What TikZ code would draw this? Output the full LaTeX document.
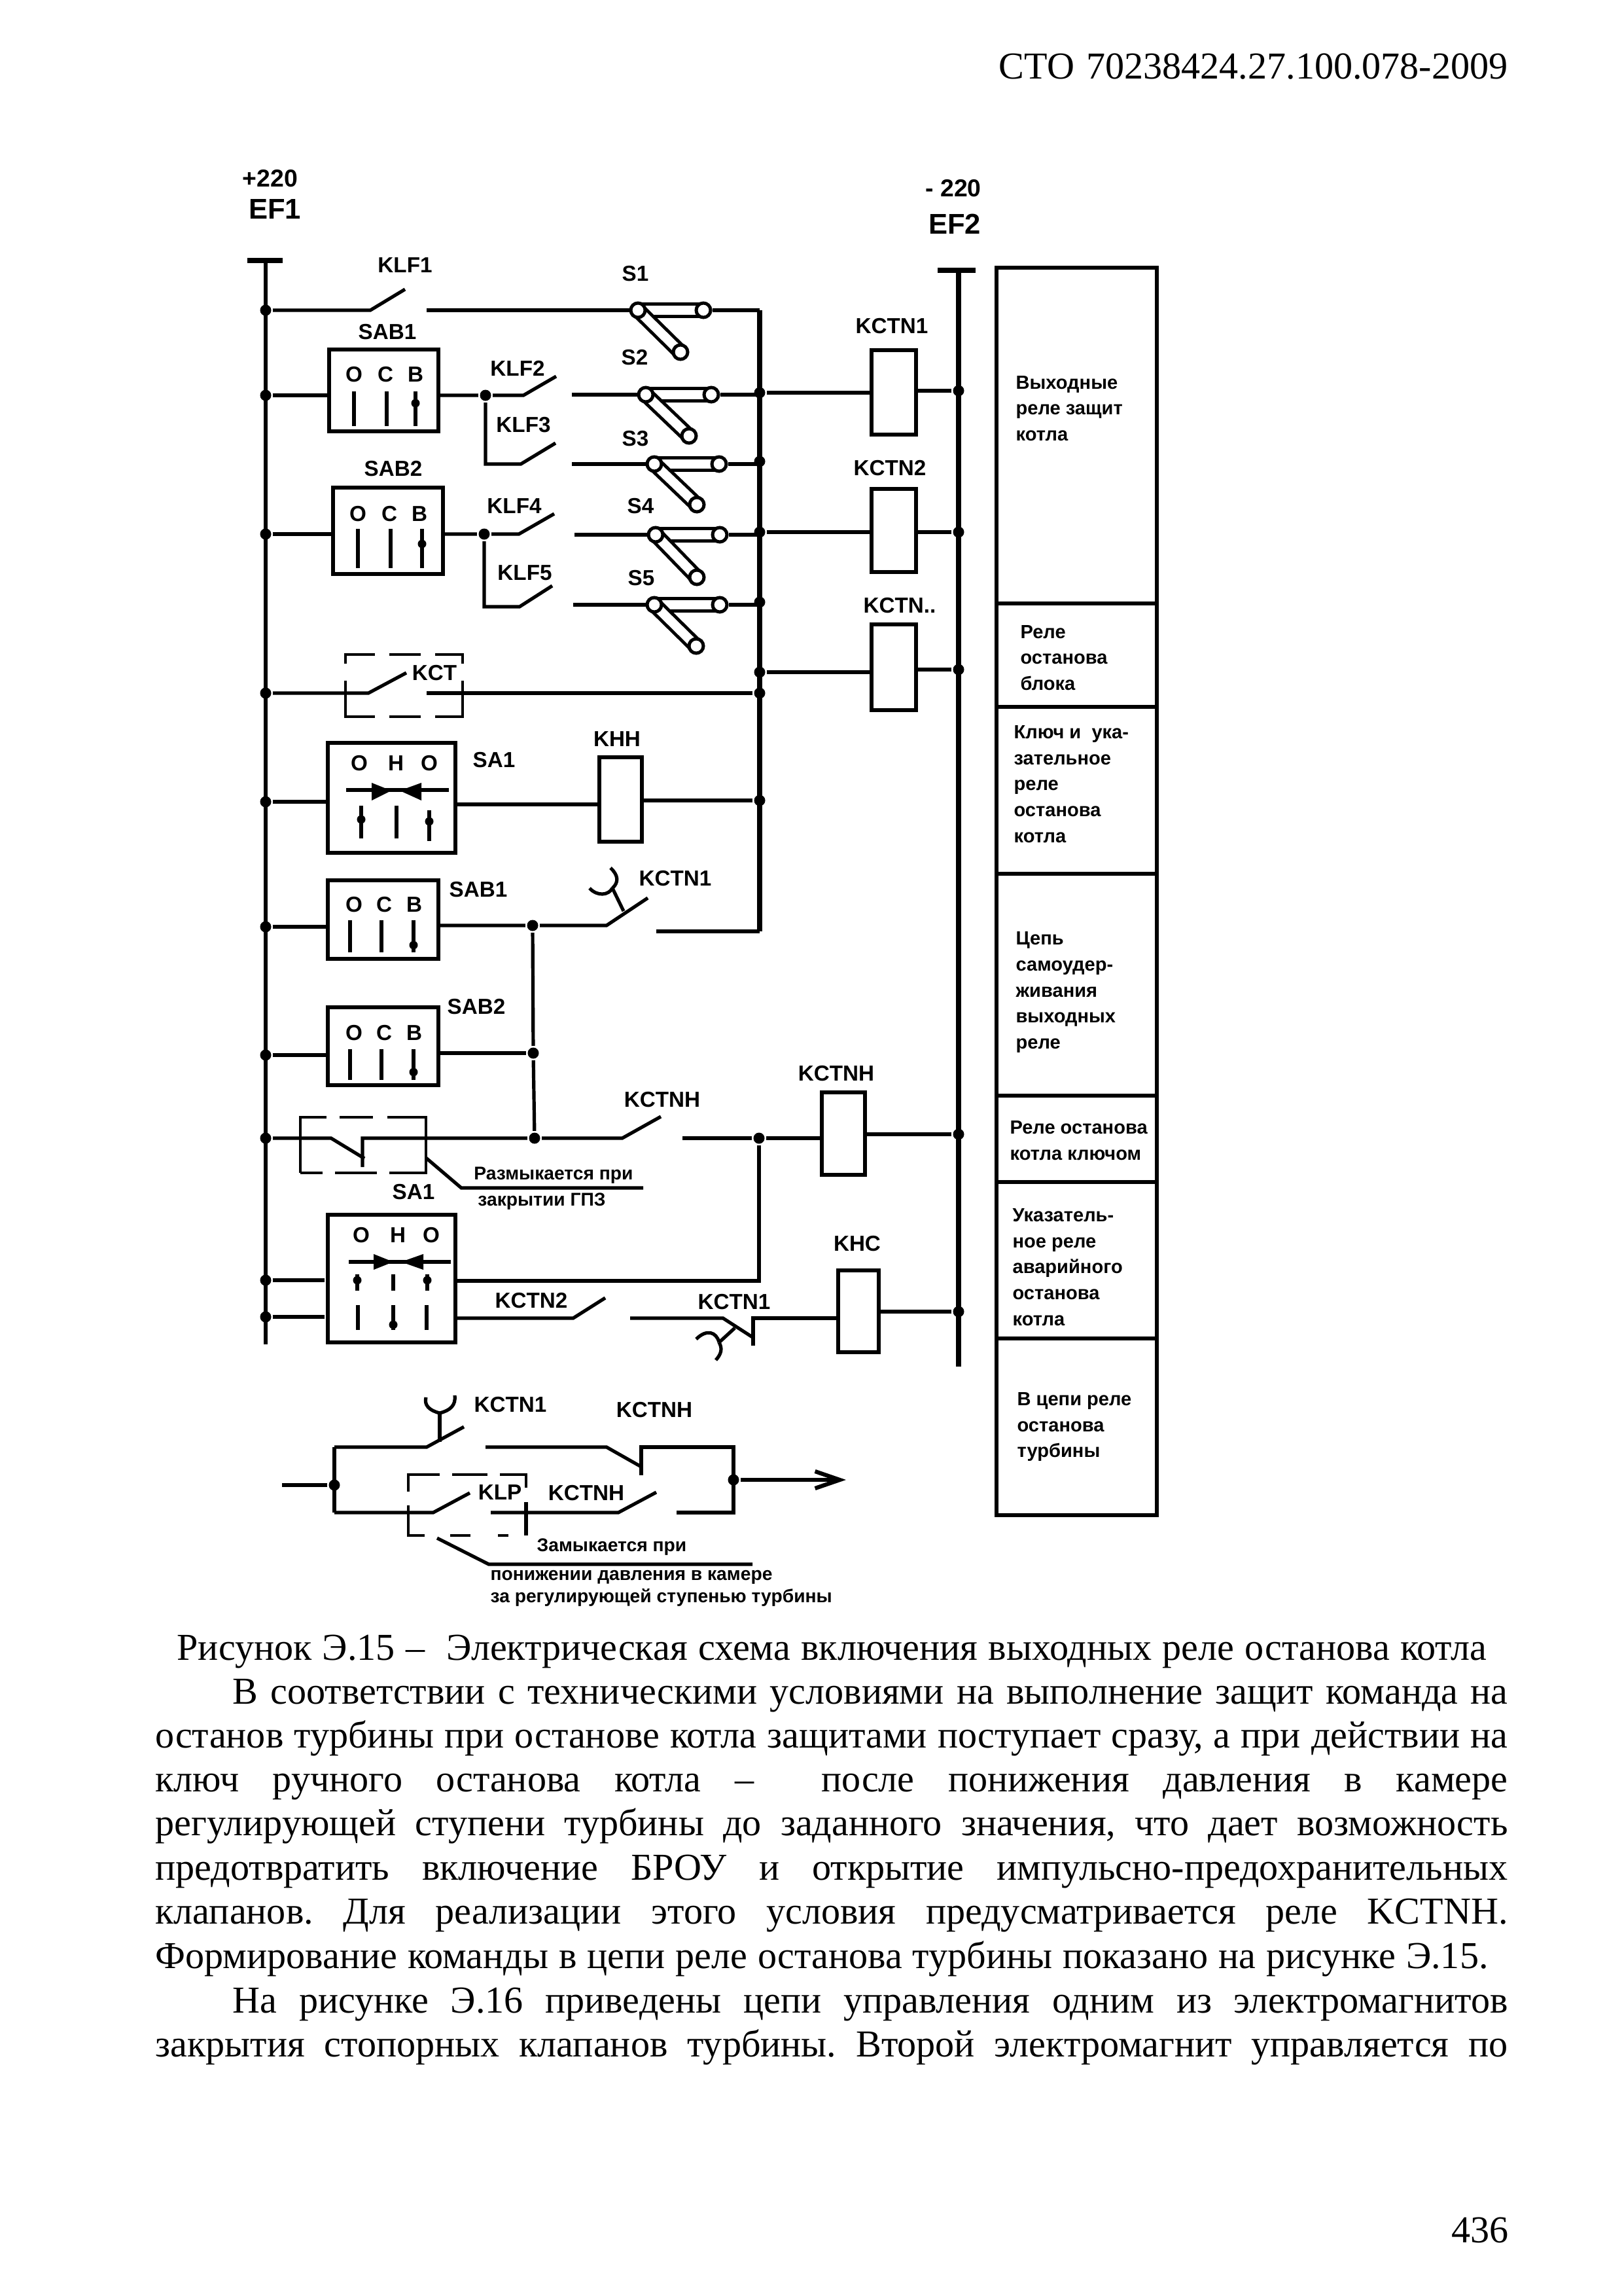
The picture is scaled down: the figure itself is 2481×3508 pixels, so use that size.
\documentclass[tikz,border=0pt]{standalone}
\usepackage{fontspec}
\setmainfont{Liberation Serif}
\newfontfamily\schemefont{Liberation Sans}
\usetikzlibrary{arrows.meta,backgrounds}
\newdimen\pxu
\pxu=0.08464mm
\newcommand{\jline}[2]{\makebox[#1\pxu][s]{#2}}
\frenchspacing
\tikzset{
    lbl/.style={font=\schemefont\bfseries\fontsize{8}{9}\selectfont,inner sep=0pt},
    keylet/.style={font=\schemefont\bfseries\fontsize{8}{9}\selectfont,inner sep=0pt},
    note/.style={font=\schemefont\bfseries\fontsize{6.8}{8}\selectfont,inner sep=0pt},
    cell/.style={font=\schemefont\bfseries\fontsize{7}{9.6}\selectfont,inner sep=0pt,align=left,anchor=west},
    body/.style={font=\fontsize{14}{16}\selectfont,inner sep=0pt,anchor=base west},
    keybox/.style={draw,line width=1.4pt,inner sep=0pt,fill=white},
    coil/.style={draw,line width=1.6pt,inner sep=0pt,fill=white},
    dashline/.style={line width=.9pt},
    junct/.style={circle,fill,inner sep=0pt,minimum size=17\pxu},
    kdot/.style={circle,fill,inner sep=0pt,minimum size=13\pxu},
    pin/.style={circle,draw,fill=white,line width=1.2pt,inner sep=0pt,minimum size=22\pxu},
    plug/.style={double=white,double distance=14\pxu,line width=1.2pt,shorten <=-9\pxu,shorten >=-9\pxu},
    busbar/.style={line width=1.8pt}
}

\begin{document}
\begin{tikzpicture}[x=\pxu,y=-\pxu,line width=1.25pt]
    \useasboundingbox (0,0) rectangle (2481,3508);

    % page text
    \node (head) [body] at (1524,120) {\jline{778}{СТО 70238424.27.100.078-2009}};
    \node (capt) [body] at (268,2536) {\jline{2002}{Рисунок Э.15 –\ \ Электрическая схема включения выходных реле останова котла}};
    \node (txta) [body] at (353,2603) {\jline{1949}{В соответствии с техническими условиями на выполнение защит команда на}};
    \node (txtb) [body] at (235,2670) {\jline{2067}{останов турбины при останове котла защитами поступает сразу, а при действии на}};
    \node (txtc) [body] at (235,2737) {\jline{2067}{ключ ручного останова котла –\ \ после понижения давления в камере}};
    \node (txtd) [body] at (235,2804) {\jline{2067}{регулирующей ступени турбины до заданного значения, что дает возможность}};
    \node (txte) [body] at (235,2872) {\jline{2067}{предотвратить включение БРОУ и открытие импульсно-предохранительных}};
    \node (txtf) [body] at (235,2939) {\jline{2067}{клапанов. Для реализации этого условия предусматривается реле KCTNH.}};
    \node (txtg) [body] at (235,3007) {\jline{2037}{Формирование команды в цепи реле останова турбины показано на рисунке Э.15.}};
    \node (txth) [body] at (353,3075) {\jline{1949}{На рисунке Э.16 приведены цепи управления одним из электромагнитов}};
    \node (txti) [body] at (235,3142) {\jline{2067}{закрытия стопорных клапанов турбины. Второй электромагнит управляется по}};
    \node (pnum) [body] at (2216,3426) {436};

    % buses
    \node (plus) [lbl,font=\schemefont\bfseries\fontsize{9}{10}\selectfont] at (413,273) {+220};
    \node (efone) [lbl,font=\schemefont\bfseries\fontsize{10.5}{12}\selectfont] at (420,319) {EF1};
    \node (minus) [lbl,font=\schemefont\bfseries\fontsize{9}{10}\selectfont] at (1457,288) {- 220};
    \node (eftwo) [lbl,font=\schemefont\bfseries\fontsize{10.5}{12}\selectfont] at (1459,342) {EF2};
    \coordinate (busAl) at (378,398);
    \coordinate (busAr) at (432,398);
    \coordinate (busAt) at (406,398);
    \coordinate (busAb) at (406,2054);
    \coordinate (busBl) at (1433,413);
    \coordinate (busBr) at (1491,413);
    \coordinate (busBt) at (1465,413);
    \coordinate (busBb) at (1465,2088);
    \draw [line width=2pt] (busAl) -- (busAr);
    \draw [line width=2pt] (busBl) -- (busBr);
    \draw (busAt) -- (busAb);
    \draw [busbar] (busBt) -- (busBb);

    \node (jA) [junct] at (406,474) {};
    \node (jB) [junct] at (406,604) {};
    \node (jC) [junct] at (406,816) {};
    \node (jD) [junct] at (406,1059) {};
    \node (jE) [junct] at (406,1225) {};
    \node (jF) [junct] at (406,1416) {};
    \node (jG) [junct] at (406,1612) {};
    \node (jH) [junct] at (406,1739) {};
    \node (jI) [junct] at (406,1956) {};
    \node (jJ) [junct] at (406,2012) {};

    \coordinate (rA) at (1161,474);
    \node (rB) [junct] at (1161,600) {};
    \node (rC) [junct] at (1161,705) {};
    \node (rD) [junct] at (1161,813) {};
    \node (rE) [junct] at (1161,920) {};
    \node (rF) [junct] at (1161,1027) {};
    \node (rG) [junct] at (1161,1059) {};
    \node (rH) [junct] at (1161,1223) {};
    \coordinate (rI) at (1161,1423);
    \draw [busbar] (rA) -- (rI);

    \node (qA) [junct] at (1465,597) {};
    \node (qB) [junct] at (1465,813) {};
    \node (qC) [junct] at (1465,1023) {};
    \node (qD) [junct] at (1465,1733) {};
    \node (qE) [junct] at (1465,2004) {};

    % key boxes
    \node (sabA) [keybox,minimum width=167\pxu,minimum height=125\pxu] at (586.5,596.5) {};
    \node [lbl] at (592,507) {SAB1};
    \node (sabAo) [keylet] at (541,572) {О};
    \node (sabAc) [keylet] at (589,572) {С};
    \node (sabAb) [keylet] at (635,572) {В};
    \draw (541,598) -- (541,651);
    \draw (591,598) -- (591,651);
    \draw (635,598) -- (635,651);
    \node [kdot] at (635,616) {};

    \node (sabB) [keybox,minimum width=168\pxu,minimum height=132\pxu] at (593,811) {};
    \node [lbl] at (601,716) {SAB2};
    \node (sabBo) [keylet] at (547,785) {О};
    \node (sabBc) [keylet] at (595,785) {С};
    \node (sabBb) [keylet] at (641,785) {В};
    \draw (547,808) -- (547,868);
    \draw (597,808) -- (597,868);
    \draw (645,808) -- (645,868);
    \node [kdot] at (645,831) {};

    \node (sabC) [keybox,minimum width=169\pxu,minimum height=120\pxu] at (585.5,1405) {};
    \node [lbl] at (731,1359) {SAB1};
    \node (sabCo) [keylet] at (541,1382) {О};
    \node (sabCc) [keylet] at (587,1382) {С};
    \node (sabCb) [keylet] at (633,1382) {В};
    \draw (535,1406) -- (535,1455);
    \draw (583,1406) -- (583,1455);
    \draw (632,1406) -- (632,1455);
    \node [kdot] at (632,1444) {};

    \node (sabD) [keybox,minimum width=169\pxu,minimum height=119\pxu] at (585.5,1598.5) {};
    \node [lbl] at (728,1538) {SAB2};
    \node (sabDo) [keylet] at (541,1578) {О};
    \node (sabDc) [keylet] at (587,1578) {С};
    \node (sabDb) [keylet] at (633,1578) {В};
    \draw (535,1603) -- (535,1650);
    \draw (583,1603) -- (583,1650);
    \draw (632,1603) -- (632,1650);
    \node [kdot] at (632,1638) {};

    \node (saA) [keybox,minimum width=195\pxu,minimum height=168\pxu] at (598.5,1219) {};
    \node [lbl] at (755,1161) {SA1};
    \node (saAo) [keylet] at (549,1166) {О};
    \node (saAh) [keylet] at (605,1166) {Н};
    \node (saAp) [keylet] at (656,1166) {О};
    \draw (529,1207) -- (686,1207);
    \fill (568,1196) -- (598,1208) -- (568,1223) -- cycle;
    \fill (644,1196) -- (611,1208) -- (644,1223) -- cycle;
    \draw (552,1231) -- (552,1281);
    \draw (606,1231) -- (606,1281);
    \draw (656,1238) -- (656,1285);
    \node [kdot] at (552,1252) {};
    \node [kdot] at (656,1255) {};

    \node (saB) [keybox,minimum width=195\pxu,minimum height=195\pxu] at (598.5,1953.5) {};
    \node (saBo) [keylet] at (552,1887) {О};
    \node (saBh) [keylet] at (608,1887) {Н};
    \node (saBp) [keylet] at (659,1887) {О};
    \draw (533,1928) -- (689,1928);
    \fill (571,1916) -- (601,1928) -- (571,1940) -- cycle;
    \fill (647,1916) -- (613,1928) -- (647,1940) -- cycle;
    \draw (546,1947) -- (546,1972);
    \draw (601,1947) -- (601,1972);
    \draw (653,1947) -- (653,1972);
    \node [kdot] at (546,1956) {};
    \node [kdot] at (653,1956) {};
    \draw (547,1994) -- (547,2032);
    \draw (601,1994) -- (601,2032);
    \draw (652,1994) -- (652,2032);
    \node [kdot] at (601,2024) {};

    % coils
    \node (coilA) [coil,minimum width=68\pxu,minimum height=129\pxu] at (1366,599.5) {};
    \node (coilB) [coil,minimum width=68\pxu,minimum height=127\pxu] at (1366,810.5) {};
    \node (coilC) [coil,minimum width=68\pxu,minimum height=131\pxu] at (1366,1019.5) {};
    \node (coilH) [coil,minimum width=65\pxu,minimum height=129\pxu] at (948.5,1221.5) {};
    \node (coilN) [coil,minimum width=66\pxu,minimum height=126\pxu] at (1289,1732) {};
    \node (coilS) [coil,minimum width=62\pxu,minimum height=125\pxu] at (1312,2003.5) {};
    \node [lbl] at (1363,498) {KCTN1};
    \node [lbl] at (1360,715) {KCTN2};
    \node [lbl] at (1375,925) {KCTN..};
    \node [lbl] at (943,1129) {KHH};
    \node [lbl] at (1278,1640) {KCTNH};
    \node [lbl] at (1310,1900) {KHC};

    % plug switches
    \node (soneL) [pin] at (975,474) {};
    \node (soneR) [pin] at (1075,474) {};
    \node (soneD) [pin] at (1040,538) {};
    \node (stwoL) [pin] at (987,603) {};
    \node (stwoR) [pin] at (1087,603) {};
    \node (stwoD) [pin] at (1053,666) {};
    \node (sthrL) [pin] at (1000,709) {};
    \node (sthrR) [pin] at (1099,709) {};
    \node (sthrD) [pin] at (1065,771) {};
    \node (sfouL) [pin] at (1002,817) {};
    \node (sfouR) [pin] at (1100,817) {};
    \node (sfouD) [pin] at (1065,882) {};
    \node (sfivL) [pin] at (1000,924) {};
    \node (sfivR) [pin] at (1100,924) {};
    \node (sfivD) [pin] at (1064,987) {};
    \begin{scope}[on background layer]
        \draw [plug] (soneL) -- (soneR);
        \draw [plug] (soneL) -- (soneD);
        \draw [plug] (stwoL) -- (stwoR);
        \draw [plug] (stwoL) -- (stwoD);
        \draw [plug] (sthrL) -- (sthrR);
        \draw [plug] (sthrL) -- (sthrD);
        \draw [plug] (sfouL) -- (sfouR);
        \draw [plug] (sfouL) -- (sfouD);
        \draw [plug] (sfivL) -- (sfivR);
        \draw [plug] (sfivL) -- (sfivD);
    \end{scope}
    \node [lbl] at (971,418) {S1};
    \node [lbl] at (970,546) {S2};
    \node [lbl] at (971,670) {S3};
    \node [lbl] at (979,773) {S4};
    \node [lbl] at (980,883) {S5};

    % row KLF1
    \coordinate (klfAa) at (566,474);
    \coordinate (klfAb) at (619,442);
    \coordinate (klfAc) at (652,474);
    \node [lbl] at (619,405) {KLF1};
    \draw (jA) -- (klfAa) -- (klfAb);
    \draw (klfAc) -- (soneL);
    \draw (soneR) -- (rA);

    % rows KLF2, KLF3
    \node (jsA) [junct] at (742,604) {};
    \coordinate (klfBa) at (800,604);
    \coordinate (klfBb) at (850,575);
    \coordinate (klfBc) at (874,603);
    \coordinate (klfCd) at (742,709);
    \coordinate (klfCa) at (796,709);
    \coordinate (klfCb) at (849,677);
    \coordinate (klfCc) at (874,709);
    \node [lbl] at (791,563) {KLF2};
    \node [lbl] at (800,649) {KLF3};
    \draw (jB) -- (jB -| sabA.west);
    \draw (jB -| sabA.east) -- (jsA) -- (klfBa) -- (klfBb);
    \draw (klfBc) -- (stwoL);
    \draw (stwoR) -- (stwoR -| rB) -- (rB);
    \draw (jsA) -- (klfCd) -- (klfCa) -- (klfCb);
    \draw (klfCc) -- (sthrL);
    \draw (sthrR) -- (sthrR -| rC);

    % rows KLF4, KLF5
    \node (jsB) [junct] at (740,816) {};
    \coordinate (klfDa) at (793,816);
    \coordinate (klfDb) at (847,785);
    \coordinate (klfDc) at (878,817);
    \coordinate (klfEd) at (740,927);
    \coordinate (klfEa) at (794,927);
    \coordinate (klfEb) at (844,895);
    \coordinate (klfEc) at (876,924);
    \node [lbl] at (786,773) {KLF4};
    \node [lbl] at (802,875) {KLF5};
    \draw (jC) -- (jC -| sabB.west);
    \draw (jC -| sabB.east) -- (jsB) -- (klfDa) -- (klfDb);
    \draw (klfDc) -- (sfouL);
    \draw (sfouR) -- (sfouR -| rD);
    \draw (jsB) -- (klfEd) -- (klfEa) -- (klfEb);
    \draw (klfEc) -- (sfivL);
    \draw (sfivR) -- (sfivR -| rE);

    % coil wires
    \draw (rB) -- (rB -| coilA.west);
    \draw (coilA.east |- qA) -- (qA);
    \draw (rD) -- (rD -| coilB.west);
    \draw (coilB.east |- qB) -- (qB);
    \draw (rF) -- (rF -| coilC.west);
    \draw (coilC.east |- qC) -- (qC);

    % row KCT
    \draw [dashline] (528,1014) -- (528,1000) -- (573,1000);
    \draw [dashline] (595,1000) -- (643,1000);
    \draw [dashline] (665,1000) -- (707,1000) -- (707,1014);
    \draw [dashline] (528,1040) -- (528,1095) -- (573,1095);
    \draw [dashline] (595,1095) -- (643,1095);
    \draw [dashline] (665,1095) -- (707,1095) -- (707,1040);
    \coordinate (kctA) at (563,1059);
    \coordinate (kctB) at (621,1028);
    \coordinate (kctC) at (652,1059);
    \node [lbl] at (664,1028) {KCT};
    \draw (jD) -- (kctA) -- (kctB);
    \draw (kctC) -- (rG);

    % row KHH
    \draw (jE) -- (jE -| saA.west);
    \draw (saA.east |- 0,1229) -- (coilH.west |- 0,1229);
    \draw (coilH.east |- rH) -- (rH);

    % row KCTN1 with fork
    \node (jsC) [junct] at (814,1414) {};
    \coordinate (ctaA) at (927,1414);
    \coordinate (ctaB) at (990,1372);
    \coordinate (ctaC) at (1003,1423);
    \coordinate (ctaF) at (936,1357);
    \coordinate (ctaS) at (953,1392);
    \node [lbl] at (1032,1342) {KCTN1};
    \draw (jF) -- (jF -| sabC.west);
    \draw (jsC -| sabC.east) -- (jsC) -- (ctaA) -- (ctaB);
    \draw (ctaC) -- (rI);
    \draw (ctaS) -- (ctaF);
    \draw (ctaF) .. controls (946,1348) and (945,1337) .. (933,1326);
    \draw (ctaF) .. controls (930,1368) and (913,1370) .. (901,1357);

    % row SAB2
    \node (jsD) [junct] at (815,1609) {};
    \node (jsE) [junct] at (817,1739) {};
    \draw (jG) -- (jG -| sabD.west);
    \draw (jsD -| sabD.east) -- (jsD);
    \draw (jsC) -- (jsD) -- (jsE);

    % row KCTNH
    \draw [dashline] (459,1792) -- (459,1707) -- (499,1707);
    \draw [dashline] (519,1707) -- (570,1707);
    \draw [dashline] (592,1707) -- (651,1707) -- (651,1792) -- (595,1792);
    \draw [dashline] (576,1792) -- (512,1792);
    \draw [dashline] (493,1792) -- (459,1792);
    \coordinate (saoA) at (506,1739);
    \coordinate (saoB) at (557,1770);
    \coordinate (saoC) at (554,1783);
    \coordinate (saoD) at (554,1739);
    \coordinate (ctbA) at (951,1739);
    \coordinate (ctbB) at (1010,1706);
    \coordinate (ctbC) at (1043,1739);
    \node (jsF) [junct] at (1160,1739) {};
    \coordinate (jsG) at (1160,1957);
    \node [lbl] at (1012,1680) {KCTNH};
    \node [lbl] at (632,1821) {SA1};
    \draw (jH) -- (saoA) -- (saoB);
    \draw (saoC) -- (saoD) -- (jsE) -- (ctbA) -- (ctbB);
    \draw (ctbC) -- (jsF) -- (jsF -| coilN.west);
    \draw (coilN.east |- qD) -- (qD);
    \draw (jsF) -- (jsG) -- (jsG -| saB.east);
    % note on SA1 contact
    \coordinate (ledA) at (651,1769);
    \coordinate (ledB) at (705,1815);
    \coordinate (ledC) at (983,1815);
    \node (noteA) [note] at (846,1796) {Размыкается при};
    \node (noteB) [note] at (828,1836) {закрытии ГПЗ};
    \draw (ledA) -- (ledB) -- (ledC);

    % rows of lower SA1
    \coordinate (jIa) at (496,1956);
    \coordinate (jJa) at (496,2012);
    \draw (jI) -- (jIa);
    \draw (jJ) -- (jJa);
    \coordinate (ctcA) at (876,2014);
    \coordinate (ctcB) at (925,1983);
    \coordinate (ctcC) at (963,2014);
    \coordinate (ctdA) at (1105,2014);
    \coordinate (ctdB) at (1150,2043);
    \coordinate (ctdC) at (1151,2056);
    \coordinate (ctdD) at (1151,2014);
    \coordinate (ctdF) at (1099,2051);
    \coordinate (ctdS) at (1123,2029);
    \node [lbl] at (812,1987) {KCTN2};
    \node [lbl] at (1122,1989) {KCTN1};
    \draw (saB.east |- ctcA) -- (ctcA) -- (ctcB);
    \draw (ctcC) -- (ctdA) -- (ctdB);
    \draw (ctdC) -- (ctdD) -- (ctdD -| coilS.west);
    \draw (coilS.east |- qE) -- (qE);
    \draw (ctdS) -- (ctdF);
    \draw (ctdF) .. controls (1095,2035) and (1080,2030) .. (1064,2046);
    \draw (ctdF) .. controls (1104,2060) and (1103,2068) .. (1094,2078);

    % turbine relay chain
    \coordinate (inp) at (431,2269);
    \node (jtA) [junct] at (511,2269) {};
    \coordinate (ltT) at (511,2211);
    \coordinate (ltB) at (511,2311);
    \coordinate (cteA) at (652,2211);
    \coordinate (cteB) at (709,2180);
    \coordinate (cteC) at (742,2211);
    \coordinate (cteF) at (672,2159);
    \coordinate (cteS) at (672,2203);
    \coordinate (ctfA) at (927,2211);
    \coordinate (ctfB) at (980,2241);
    \coordinate (ctfC) at (980,2254);
    \coordinate (ctfD) at (980,2211);
    \coordinate (rtT) at (1121,2211);
    \node (jtB) [junct] at (1121,2261) {};
    \coordinate (rtB) at (1121,2311);
    \coordinate (ctgA) at (662,2311);
    \coordinate (ctgB) at (718,2281);
    \coordinate (ctgC) at (750,2311);
    \coordinate (cthA) at (945,2311);
    \coordinate (cthB) at (1003,2280);
    \coordinate (cthC) at (1034,2311);
    \coordinate (outp) at (1293,2261);
    \draw [dashline] (624,2279) -- (624,2253) -- (672,2253);
    \draw [dashline] (691,2253) -- (745,2253);
    \draw [dashline] (764,2253) -- (804,2253) -- (804,2273);
    \draw [dashline] (624,2300) -- (624,2346) -- (649,2346);
    \draw [dashline] (688,2346) -- (719,2346);
    \draw [dashline] (761,2346) -- (777,2346);
    \draw (804,2295) -- (804,2346);
    \node [lbl] at (780,2146) {KCTN1};
    \node [lbl] at (1000,2154) {KCTNH};
    \node [lbl] at (764,2280) {KLP};
    \node [lbl] at (896,2281) {KCTNH};
    \draw [line width=1.5pt] (inp) -- (jtA);
    \draw (ltT) -- (ltB);
    \draw (ltT) -- (cteA) -- (cteB);
    \draw (cteC) -- (ctfA) -- (ctfB);
    \draw (ctfC) -- (ctfD) -- (rtT) -- (rtB) -- (cthC);
    \draw (ltB) -- (ctgA) -- (ctgB);
    \draw (ctgC) -- (cthA) -- (cthB);
    \draw (cteS) -- (cteF);
    \draw (cteF) .. controls (656,2155) and (648,2147) .. (651,2135);
    \draw (cteF) .. controls (688,2155) and (697,2147) .. (695,2132);
    \draw [line width=1.5pt,-{Straight Barb[length=3.2mm,width=2.2mm]}] (jtB) -- (outp);
    % note on KLP contact
    \coordinate (ledD) at (668,2350);
    \coordinate (ledE) at (747,2390);
    \coordinate (ledF) at (1150,2390);
    \node (noteC) [note] at (935,2364) {Замыкается при};
    \node (noteD) [note,anchor=west] at (747,2410) {понижении давления в камере};
    \node (noteE) [note,anchor=west] at (747,2441) {за регулирующей ступенью турбины};
    \draw (ledD) -- (ledE) -- (ledF);

    % table on the right
    \draw [line width=1.6pt] (1523,409) rectangle (1768,2315);
    \draw [line width=1.6pt] (1523,922) -- (1768,922);
    \draw [line width=1.6pt] (1523,1080) -- (1768,1080);
    \draw [line width=1.6pt] (1523,1335) -- (1768,1335);
    \draw [line width=1.6pt] (1523,1674) -- (1768,1674);
    \draw [line width=1.6pt] (1523,1806) -- (1768,1806);
    \draw [line width=1.6pt] (1523,2045) -- (1768,2045);
    \node (celA) [cell] at (1550,624) {Выходные\\реле защит\\котла};
    \node (celB) [cell] at (1557,1005) {Реле\\останова\\блока};
    \node (celC) [cell] at (1547,1198) {Ключ и\ \ ука-\\зательное\\реле\\останова\\котла};
    \node (celD) [cell] at (1550,1516) {Цепь\\самоудер-\\живания\\выходных\\реле};
    \node (celE) [cell] at (1541,1743) {Реле останова\\котла ключом};
    \node (celF) [cell] at (1545,1936) {Указатель-\\ное реле\\аварийного\\останова\\котла};
    \node (celG) [cell] at (1552,2180) {В цепи реле\\останова\\турбины};
\end{tikzpicture}
\end{document}
